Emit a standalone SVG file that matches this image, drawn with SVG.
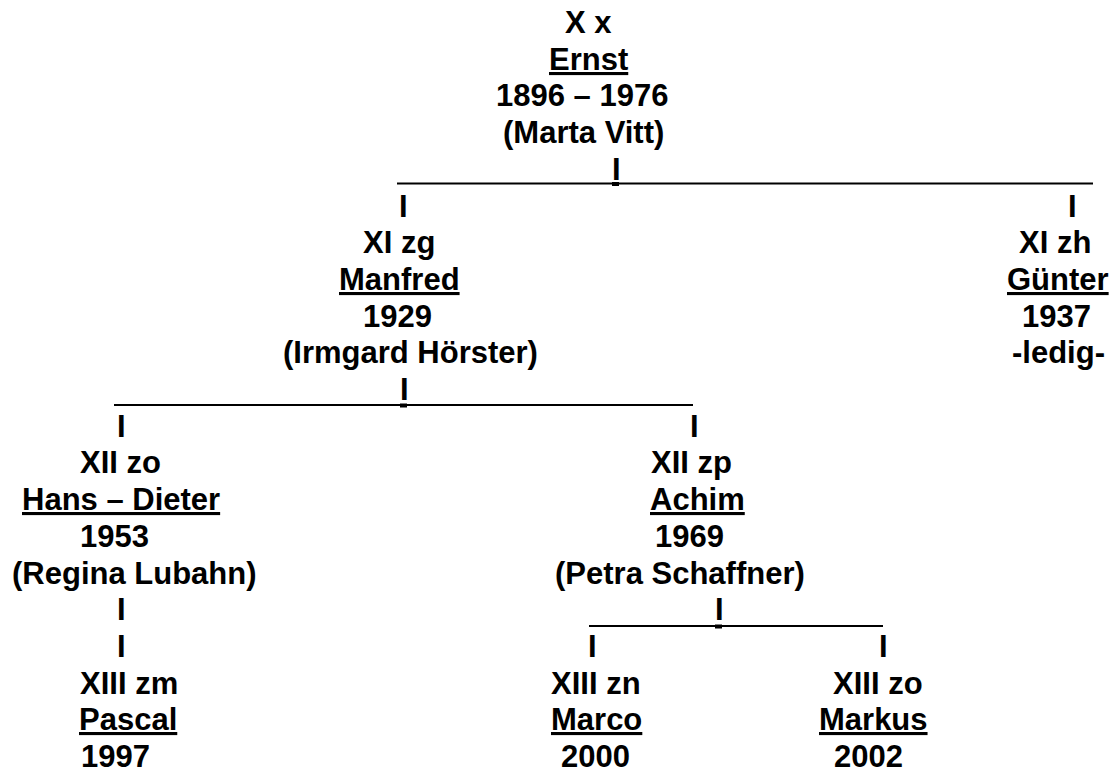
<svg xmlns="http://www.w3.org/2000/svg" width="1118" height="772" viewBox="0 0 1118 772">
<style>
text{font-family:"Liberation Sans",Arial,sans-serif;font-weight:bold;font-size:31px;fill:#000}
.u{text-decoration:underline}
.ln{stroke:#000;stroke-width:2.2}
</style>
<rect width="1118" height="772" fill="#fff"/>
<g id="connectors">
<line class="ln" x1="397" y1="183.5" x2="1093" y2="183.5"/>
<rect x="612" y="182" width="7" height="4"/>
<line class="ln" x1="114" y1="405" x2="693" y2="405"/>
<rect x="400" y="403.5" width="7" height="4"/>
<line class="ln" x1="589" y1="626" x2="883" y2="626"/>
<rect x="715" y="624.5" width="7" height="4"/>
<text x="612" y="180">I</text>
<text x="399" y="217">I</text>
<text x="1068" y="217">I</text>
<text x="400" y="400">I</text>
<text x="117" y="437">I</text>
<text x="690" y="437">I</text>
<text x="117" y="620">I</text>
<text x="117" y="657">I</text>
<text x="715" y="620">I</text>
<text x="588" y="657">I</text>
<text x="879" y="657">I</text>
</g>
<g id="ernst">
<text x="565" y="33">X x</text>
<text x="549" y="70" class="u">Ernst</text>
<text x="496" y="106">1896 – 1976</text>
<text x="503" y="143">(Marta Vitt)</text>
</g>
<g id="manfred">
<text x="363" y="253">XI zg</text>
<text x="339" y="290" class="u">Manfred</text>
<text x="363" y="327">1929</text>
<text x="283" y="363">(Irmgard Hörster)</text>
</g>
<g id="guenter">
<text x="1019" y="253">XI zh</text>
<text x="1007" y="290" class="u">Günter</text>
<text x="1022" y="327">1937</text>
<text x="1012" y="363">-ledig-</text>
</g>
<g id="hansdieter">
<text x="80" y="473">XII zo</text>
<text x="22" y="510" class="u">Hans – Dieter</text>
<text x="80" y="547">1953</text>
<text x="12" y="584">(Regina Lubahn)</text>
</g>
<g id="achim">
<text x="651" y="473">XII zp</text>
<text x="650" y="510" class="u">Achim</text>
<text x="655" y="547">1969</text>
<text x="555" y="584">(Petra Schaffner)</text>
</g>
<g id="pascal">
<text x="80" y="694">XIII zm</text>
<text x="79" y="730" class="u">Pascal</text>
<text x="81" y="767">1997</text>
</g>
<g id="marco">
<text x="551" y="694">XIII zn</text>
<text x="551" y="730" class="u">Marco</text>
<text x="561" y="767">2000</text>
</g>
<g id="markus">
<text x="833" y="694">XIII zo</text>
<text x="819" y="730" class="u">Markus</text>
<text x="834" y="767">2002</text>
</g>
</svg>
